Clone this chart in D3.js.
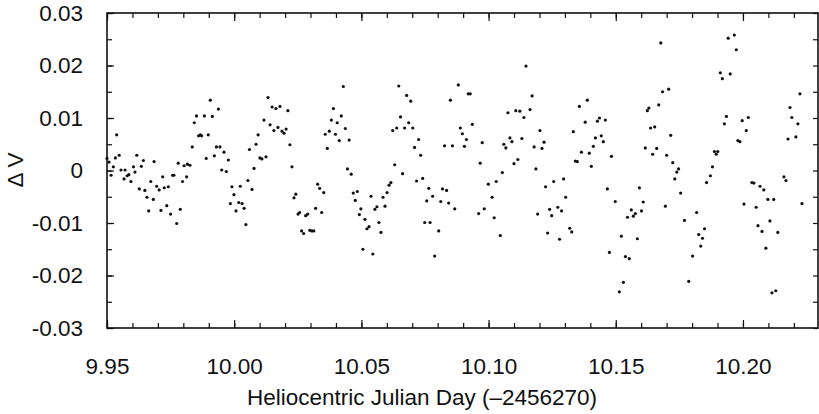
<!DOCTYPE html>
<html>
<head>
<meta charset="utf-8">
<script src="https://cdn.jsdelivr.net/npm/d3@7"></script>
<style>
  body { margin: 0; background: #fff; }
  svg { display: block; }
  text { font-family: "Liberation Sans", Arial, sans-serif; fill: #111; }
</style>
</head>
<body>
<div class="chart"></div>
<script>
// heliocentric julian day (-2456270) of every measurement
const hjd = [
  9.9500, 9.9508, 9.9516, 9.9525, 9.9533, 9.9538, 9.9548, 9.9555, 9.9567, 9.9571,
  9.9579, 9.9586, 9.9594, 9.9604, 9.9610, 9.9617, 9.9627, 9.9635, 9.9643, 9.9649,
  9.9657, 9.9664, 9.9672, 9.9682, 9.9685, 9.9695, 9.9705, 9.9712, 9.9719, 9.9725,
  9.9735, 9.9741, 9.9750, 9.9758, 9.9763, 9.9774, 9.9780, 9.9788, 9.9797, 9.9803,
  9.9813, 9.9816, 9.9826, 9.9835, 9.9843, 9.9852, 9.9860, 9.9867, 9.9872, 9.9883,
  9.9890, 9.9898, 9.9906, 9.9914, 9.9922, 9.9930, 9.9938, 9.9944, 9.9951, 9.9960,
  9.9969, 9.9977, 9.9985, 9.9991, 9.9999, 10.0007, 10.0018, 10.0024, 10.0031, 10.0039,
  10.0046, 10.0054, 10.0060, 10.0070, 10.0078, 10.0086, 10.0094, 10.0101, 10.0109, 10.0117,
  10.0125, 10.0133, 10.0141, 10.0149, 10.0156, 10.0164, 10.0172, 10.0180, 10.0188, 10.0196,
  10.0204, 10.0211, 10.0219, 10.0227, 10.0235, 10.0242, 10.0251, 10.0257, 10.0265, 10.0273,
  10.0281, 10.0289, 10.0297, 10.0305, 10.0313, 10.0320, 10.0328, 10.0336, 10.0344, 10.0352,
  10.0358, 10.0366, 10.0374, 10.0382, 10.0390, 10.0398, 10.0405, 10.0413, 10.0421, 10.0429,
  10.0437, 10.0445, 10.0452, 10.0460, 10.0468, 10.0476, 10.0484, 10.0492, 10.0498, 10.0506,
  10.0514, 10.0522, 10.0530, 10.0538, 10.0545, 10.0553, 10.0561, 10.0569, 10.0577, 10.0585,
  10.0593, 10.0601, 10.0609, 10.0616, 10.0623, 10.0631, 10.0639, 10.0647, 10.0654, 10.0662,
  10.0670, 10.0678, 10.0686, 10.0694, 10.0702, 10.0709, 10.0717, 10.0725, 10.0733, 10.0741,
  10.0749, 10.0757, 10.0765, 10.0770, 10.0780, 10.0788, 10.0804, 10.0812, 10.0819, 10.0827,
  10.0835, 10.0843, 10.0850, 10.0858, 10.0867, 10.0881, 10.0889, 10.0897, 10.0905, 10.0913,
  10.0920, 10.0928, 10.0936, 10.0961, 10.0967, 10.0975, 10.0983, 10.0999, 10.1014, 10.1022,
  10.1030, 10.1046, 10.1054, 10.1060, 10.1068, 10.1076, 10.1084, 10.1092, 10.1100, 10.1107,
  10.1115, 10.1123, 10.1131, 10.1139, 10.1147, 10.1163, 10.1171, 10.1179, 10.1186, 10.1193,
  10.1202, 10.1210, 10.1218, 10.1224, 10.1232, 10.1240, 10.1248, 10.1256, 10.1272, 10.1279,
  10.1287, 10.1295, 10.1303, 10.1319, 10.1327, 10.1333, 10.1341, 10.1349, 10.1357, 10.1365,
  10.1380, 10.1388, 10.1396, 10.1404, 10.1412, 10.1420, 10.1428, 10.1436, 10.1443, 10.1451,
  10.1459, 10.1467, 10.1475, 10.1483, 10.1498, 10.1514, 10.1522, 10.1530, 10.1538, 10.1546,
  10.1553, 10.1561, 10.1569, 10.1577, 10.1585, 10.1593, 10.1601, 10.1608, 10.1616, 10.1624,
  10.1630, 10.1637, 10.1645, 10.1653, 10.1661, 10.1669, 10.1677, 10.1684, 10.1695, 10.1700,
  10.1708, 10.1716, 10.1724, 10.1732, 10.1740, 10.1747, 10.1755, 10.1770, 10.1787, 10.1802,
  10.1818, 10.1826, 10.1834, 10.1841, 10.1849, 10.1857, 10.1872, 10.1880, 10.1888, 10.1895,
  10.1901, 10.1911, 10.1919, 10.1927, 10.1935, 10.1942, 10.1950, 10.1966, 10.1974, 10.1980,
  10.1988, 10.1997, 10.2004, 10.2013, 10.2021, 10.2035, 10.2043, 10.2052, 10.2059, 10.2067,
  10.2075, 10.2082, 10.2090, 10.2098, 10.2106, 10.2114, 10.2121, 10.2129, 10.2137, 10.2161,
  10.2169, 10.2177, 10.2185, 10.2192, 10.2208, 10.2216, 10.2224, 10.2232
];

// delta V (mag) for the same points
const dv = [
  0.0023, 0.0016, -0.0009, 0.0007, 0.0024, 0.0068, 0.0029, 0.0001, -0.0016, 0.0001,
  -0.0010, -0.0008, -0.0021, 0.0007, -0.0003, 0.0029, -0.0035, 0.0008, 0.0019, -0.0038,
  -0.0051, -0.0077, -0.0021, -0.0055, 0.0017, -0.0030, -0.0037, -0.0076, -0.0012, -0.0033,
  -0.0067, -0.0031, -0.0083, -0.0009, -0.0009, -0.0101, 0.0014, -0.0074, -0.0021, 0.0009,
  -0.0012, 0.0012, 0.0010, 0.0045, 0.0091, 0.0104, 0.0066, 0.0068, 0.0066, 0.0104,
  0.0023, 0.0068, 0.0134, 0.0103, 0.0028, 0.0045, 0.0117, 0.0045, 0.0001, 0.0035,
  -0.0002, 0.0020, -0.0063, -0.0031, -0.0046, -0.0077, -0.0061, -0.0030, -0.0063, -0.0072,
  -0.0103, -0.0019, 0.0040, -0.0036, 0.0004, 0.0050, 0.0068, 0.0024, 0.0022, 0.0096,
  0.0026, 0.0139, 0.0087, 0.0121, 0.0076, 0.0118, 0.0082, 0.0122, 0.0075, 0.0071,
  0.0079, 0.0114, 0.0049, 0.0007, -0.0052, -0.0045, -0.0083, -0.0080, -0.0115, -0.0120,
  -0.0086, -0.0083, -0.0114, -0.0115, -0.0115, -0.0072, -0.0026, -0.0034, -0.0080, -0.0042,
  0.0069, 0.0042, 0.0075, 0.0096, 0.0118, 0.0069, 0.0091, 0.0057, 0.0104, 0.0160,
  0.0080, 0.0003, 0.0058, -0.0007, -0.0043, -0.0057, -0.0040, -0.0084, -0.0073, -0.0150,
  -0.0093, -0.0111, -0.0107, -0.0049, -0.0159, -0.0074, -0.0069, -0.0099, -0.0118, -0.0051,
  -0.0068, -0.0042, -0.0028, -0.0023, 0.0076, 0.0011, 0.0081, 0.0161, 0.0102, -0.0006,
  0.0081, 0.0143, 0.0091, 0.0132, 0.0081, 0.0044, -0.0020, 0.0059, 0.0029, -0.0015,
  -0.0099, -0.0058, -0.0034, -0.0099, -0.0049, -0.0163, -0.0115, -0.0059, -0.0035, 0.0047,
  -0.0038, -0.0062, 0.0134, 0.0047, -0.0073, 0.0163, 0.0081, 0.0070, 0.0046, 0.0059,
  0.0146, 0.0146, 0.0088, -0.0082, 0.0014, 0.0053, -0.0073, -0.0026, -0.0051, -0.0090,
  -0.0021, -0.0124, -0.0004, 0.0050, 0.0043, 0.0110, 0.0062, 0.0055, 0.0013, 0.0114,
  0.0021, 0.0113, 0.0061, 0.0101, 0.0199, 0.0116, 0.0142, 0.0045, 0.0003, -0.0083,
  0.0076, 0.0042, 0.0054, -0.0031, -0.0119, -0.0074, -0.0086, -0.0021, -0.0070, -0.0131,
  -0.0077, -0.0016, -0.0051, -0.0110, -0.0117, 0.0074, 0.0018, 0.0017, 0.0122, 0.0035,
  0.0092, 0.0134, 0.0033, 0.0008, 0.0046, 0.0062, 0.0094, 0.0100, 0.0066, 0.0055,
  0.0096, -0.0035, -0.0156, 0.0027, -0.0059, -0.0231, -0.0125, -0.0213, -0.0164, -0.0089,
  -0.0168, -0.0075, -0.0087, -0.0082, -0.0130, -0.0033, -0.0077, -0.0060, 0.0043, 0.0114,
  0.0119, 0.0081, 0.0031, 0.0083, 0.0042, 0.0125, 0.0243, 0.0150, -0.0068, 0.0029,
  0.0155, 0.0067, 0.0015, -0.0016, -0.0003, 0.0003, -0.0043, -0.0095, -0.0211, -0.0163,
  -0.0080, -0.0122, -0.0144, -0.0129, -0.0111, -0.0023, -0.0010, 0.0007, 0.0036, 0.0031,
  0.0036, 0.0186, 0.0175, 0.0089, 0.0103, 0.0252, 0.0184, 0.0258, 0.0230, 0.0057,
  0.0055, 0.0095, -0.0064, 0.0076, 0.0101, -0.0023, -0.0024, -0.0070, -0.0105, -0.0030,
  -0.0116, -0.0037, -0.0148, -0.0055, -0.0096, -0.0233, -0.0055, -0.0229, -0.0118, -0.0012,
  -0.0019, 0.0060, 0.0120, 0.0101, 0.0064, 0.0089, 0.0146, -0.0063
];

// tick values + labels
const xTicks = [9.95, 10.00, 10.05, 10.10, 10.15, 10.20];
const xTickLabels = ["9.95", "10.00", "10.05", "10.10", "10.15", "10.20"];
const yTicks = [-0.03, -0.02, -0.01, 0, 0.01, 0.02, 0.03];
const yTickLabels = ["-0.03", "-0.02", "-0.01", "0", "0.01", "0.02", "0.03"];
const xMinor = d3.range(995, 1023).map(d => d / 100);
const yMinor = d3.range(-30, 31, 5).map(d => d / 1000);

const xTitle = "Heliocentric Julian Day (\u20132456270)";
const yTitle = "\u0394 V";

var width = 819, height = 414;
// plot box (note: "top" is taken by window.top, so px names)
var pxLeft = 107, pxRight = 818, pxTop = 13, pxBottom = 328;

var x = d3.scaleLinear().domain([9.95, 10.2295]).range([pxLeft, pxRight]);
var y = d3.scaleLinear().domain([-0.03, 0.03]).range([pxBottom, pxTop]);

var svg = d3.select(".chart")
    .append("svg")
    .attr("width", width)
    .attr("height", height);

svg.append("rect")
    .attr("width", width)
    .attr("height", height)
    .attr("fill", "#fff");

var fontSize = 22.5;

// axes, ticks pointing into the plot
function cleanAxis(g) {
  g.select(".domain").remove();
  g.selectAll(".tick line").attr("stroke", "#111").attr("stroke-width", 1.2);
  g.selectAll("text").style("font-size", fontSize + "px").attr("fill", "#111");
}

// bottom
svg.append("g")
    .attr("transform", "translate(0," + pxBottom + ")")
    .call(d3.axisBottom(x).tickValues(xMinor).tickSize(-5).tickFormat(""))
    .call(cleanAxis);
svg.append("g")
    .attr("transform", "translate(0," + pxBottom + ")")
    .call(d3.axisBottom(x).tickValues(xTicks).tickSize(-8).tickPadding(30)
      .tickFormat((d, i) => xTickLabels[i]))
    .call(cleanAxis);

// top
svg.append("g")
    .attr("transform", "translate(0," + pxTop + ")")
    .call(d3.axisTop(x).tickValues(xMinor).tickSize(-5).tickFormat(""))
    .call(cleanAxis);
svg.append("g")
    .attr("transform", "translate(0," + pxTop + ")")
    .call(d3.axisTop(x).tickValues(xTicks).tickSize(-8).tickFormat(""))
    .call(cleanAxis);

// left
svg.append("g")
    .attr("transform", "translate(" + pxLeft + ",0)")
    .call(d3.axisLeft(y).tickValues(yMinor).tickSize(-5).tickFormat(""))
    .call(cleanAxis);
svg.append("g")
    .attr("transform", "translate(" + pxLeft + ",0)")
    .call(d3.axisLeft(y).tickValues(yTicks).tickSize(-7).tickPadding(24)
      .tickFormat((d, i) => yTickLabels[i]))
    .call(cleanAxis);

// right
svg.append("g")
    .attr("transform", "translate(" + pxRight + ",0)")
    .call(d3.axisRight(y).tickValues(yMinor).tickSize(-5).tickFormat(""))
    .call(cleanAxis);

// frame
svg.append("rect")
    .attr("x", pxLeft)
    .attr("y", pxTop)
    .attr("width", pxRight - pxLeft)
    .attr("height", pxBottom - pxTop)
    .attr("fill", "none")
    .attr("stroke", "#111")
    .attr("stroke-width", 1.6);

// points
svg.append("g")
    .selectAll("circle")
    .data(d3.zip(hjd, dv))
    .enter()
    .append("circle")
    .attr("cx", d => x(d[0]))
    .attr("cy", d => y(d[1]))
    .attr("r", 1.6)
    .attr("fill", "#111");

// axis titles
svg.append("text")
    .attr("x", 422)
    .attr("y", 405)
    .attr("text-anchor", "middle")
    .style("font-size", fontSize + "px")
    .text(xTitle);

svg.append("text")
    .attr("transform", "translate(23,170) rotate(-90)")
    .attr("text-anchor", "middle")
    .style("font-size", fontSize + "px")
    .text(yTitle);
</script>
</body>
</html>
